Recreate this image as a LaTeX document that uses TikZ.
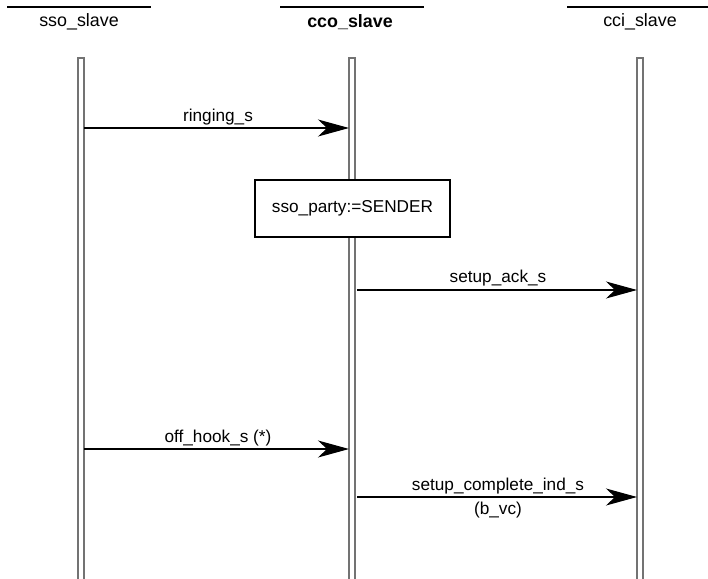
\documentclass[tikz,border=0pt]{standalone}
\usepackage{fontspec}
\setmainfont{Liberation Sans}
\usetikzlibrary{arrows.meta}
\begin{document}
\begin{tikzpicture}[x=0.75pt,y=-0.75pt,
  every node/.style={font=\fontsize{12.9pt}{15pt}\selectfont,inner sep=1pt},
  headtext/.style={font=\fontsize{13.4pt}{15pt}\selectfont},
  headline/.style={line width=2.2pt},
  lifeline/.style={draw=black!55,line width=0.8pt,fill=white},
  msg/.style={line width=0.8pt,-{Stealth[length=31*0.75pt,width=17*0.75pt,inset=9*0.75pt]}},
  actbox/.style={draw,line width=0.8pt,minimum width=195*0.75pt,minimum height=57*0.75pt,fill=white}]
\useasboundingbox (0,0) rectangle (708,579);
% headers
\draw[headline] (7,7) -- (151,7);
\draw[headline] (280,7) -- (424,7);
\draw[headline] (567,7) -- (708,7);
\node[headtext] (h1) at (79,22) {sso\_slave};
\node[headtext] (h2) at (350,22) {\bfseries cco\_slave};
\node[headtext] (h3) at (640,22) {cci\_slave};
% lifelines
\draw[lifeline] (78,585) -- (78,58) -- (84,58) -- (84,585);
\draw[lifeline] (349,585) -- (349,58) -- (355,58) -- (355,585);
\draw[lifeline] (637,585) -- (637,58) -- (643,58) -- (643,585);
\coordinate (s1) at (84,128); \coordinate (c1) at (349,128);
\coordinate (c2) at (357,290); \coordinate (i2) at (637,290);
\coordinate (s3) at (84,449); \coordinate (c3) at (349,449);
\coordinate (c4) at (357,497); \coordinate (i4) at (637,497);
\draw[msg] (s1) -- (c1);
\node (l1) at (218,117) {ringing\_s};
\node[actbox] (box) at (352.5,208.5) {sso\_party:=SENDER};
\draw[msg] (c2) -- (i2);
\node (l2) at (498,278) {setup\_ack\_s};
\draw[msg] (s3) -- (c3);
\node (l3) at (218,438) {off\_hook\_s (*)};
\draw[msg] (c4) -- (i4);
\node (l4) at (498,486) {setup\_complete\_ind\_s};
\node (l5) at (498,510) {(b\_vc)};
\end{tikzpicture}
\end{document}
